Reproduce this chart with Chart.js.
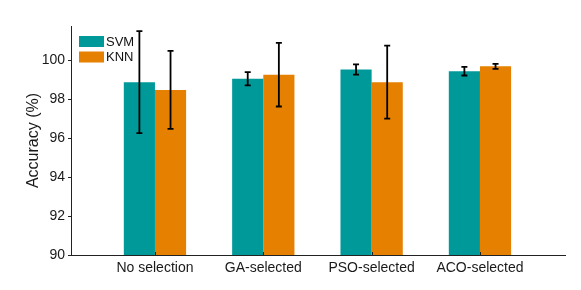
<!DOCTYPE html>
<html>
<head>
<meta charset="utf-8">
<script src="https://cdn.jsdelivr.net/npm/chart.js@4/dist/chart.umd.min.js"></script>
<style>
  html, body { margin: 0; padding: 0; background: #fff; }
  #wrap { width: 581px; height: 290px; }
</style>
</head>
<body>
<div id="wrap"><canvas id="c" width="581" height="290"></canvas></div>
<script>
const categories = ['No selection', 'GA-selected', 'PSO-selected', 'ACO-selected'];
const seriesNames = ['SVM', 'KNN'];
const svmMeans = [98.87, 99.04, 99.52, 99.43];
const svmErr = [2.62, 0.34, 0.26, 0.22];
const knnMeans = [98.47, 99.25, 98.87, 99.68];
const knnErr = [2.00, 1.63, 1.87, 0.13];
const yTicks = [90, 92, 94, 96, 98, 100];

const TEAL = '#009999';
const ORANGE = '#E68000';
const AXIS = '#222222';
const FONT = "'Liberation Sans', Arial, sans-serif";

const errorBars = {
  id: 'errorBars',
  afterDatasetsDraw(chart) {
    const ctx = chart.ctx;
    const y = chart.scales.y;
    ctx.save();
    ctx.strokeStyle = '#000';
    ctx.lineWidth = 1.8;
    chart.data.datasets.forEach((ds, di) => {
      const meta = chart.getDatasetMeta(di);
      meta.data.forEach((bar, i) => {
        const m = ds.means[i], e = ds.errs[i];
        const yt = y.getPixelForValue(m + e);
        const yb = y.getPixelForValue(m - e);
        const x = bar.x;
        ctx.beginPath();
        ctx.moveTo(x, yt); ctx.lineTo(x, yb);
        ctx.moveTo(x - 3, yt); ctx.lineTo(x + 3, yt);
        ctx.moveTo(x - 3, yb); ctx.lineTo(x + 3, yb);
        ctx.stroke();
      });
    });
    // inner x ticks
    const xs = chart.scales.x;
    ctx.strokeStyle = AXIS;
    ctx.lineWidth = 1;
    categories.forEach((c, i) => {
      const px = Math.round(xs.getPixelForValue(i)) + 0.5;
      ctx.beginPath();
      ctx.moveTo(px, chart.chartArea.bottom);
      ctx.lineTo(px, chart.chartArea.bottom - 3);
      ctx.stroke();
    });
    // legend
    const ca = chart.chartArea;
    ctx.font = '13px ' + FONT;
    ctx.textBaseline = 'middle';
    ctx.textAlign = 'left';
    chart.data.datasets.forEach((ds, di) => {
      const bx = ca.left + 8, by = ca.top + 10 + di * 15.5;
      ctx.fillStyle = ds.backgroundColor;
      ctx.fillRect(bx, by, 25, 11);
      ctx.fillStyle = '#111';
      ctx.fillText(ds.label, bx + 27, by + 6);
    });
    ctx.restore();
  }
};

new Chart(document.getElementById('c'), {
  type: 'bar',
  data: {
    datasets: [
      {
        label: seriesNames[0],
        data: categories.map((c, i) => ({ x: i, y: svmMeans[i] })),
        means: svmMeans, errs: svmErr,
        backgroundColor: TEAL,
        borderWidth: 0,
        categoryPercentage: 0.575,
        barPercentage: 1.0
      },
      {
        label: seriesNames[1],
        data: categories.map((c, i) => ({ x: i, y: knnMeans[i] })),
        means: knnMeans, errs: knnErr,
        backgroundColor: ORANGE,
        borderWidth: 0,
        categoryPercentage: 0.575,
        barPercentage: 1.0
      }
    ]
  },
  options: {
    responsive: false,
    animation: false,
    devicePixelRatio: 1,
    layout: { padding: { top: 26, right: 16, left: 0, bottom: 0 } },
    plugins: {
      legend: { display: false },
      tooltip: { enabled: false }
    },
    scales: {
      x: {
        type: 'linear',
        offset: false,
        min: -0.775,
        max: 3.785,
        afterBuildTicks: (s) => { s.ticks = categories.map((c, i) => ({ value: i })); },
        afterFit: (s) => { s.height = 35; },
        grid: { offset: false, drawOnChartArea: false, drawTicks: false },
        border: { display: true, color: AXIS, width: 1 },
        ticks: {
          autoSkip: false,
          maxRotation: 0,
          padding: 5,
          color: '#1a1a1a',
          font: { family: FONT, size: 14 },
          callback: (v) => categories[v] !== undefined ? categories[v] : ''
        }
      },
      y: {
        min: 90,
        max: 101.75,
        afterBuildTicks: (s) => { s.ticks = yTicks.map(v => ({ value: v })); },
        afterFit: (s) => { s.width = 71; },
        grid: { drawOnChartArea: false, drawTicks: true, tickLength: 3, color: AXIS },
        border: { display: true, color: AXIS, width: 1 },
        ticks: {
          padding: 3,
          color: '#1a1a1a',
          font: { family: FONT, size: 14 }
        },
        title: {
          display: true,
          text: 'Accuracy (%)',
          color: '#1a1a1a',
          font: { family: FONT, size: 16 },
          padding: { top: 24, bottom: 0 }
        }
      }
    }
  },
  plugins: [errorBars]
});
</script>
</body>
</html>
